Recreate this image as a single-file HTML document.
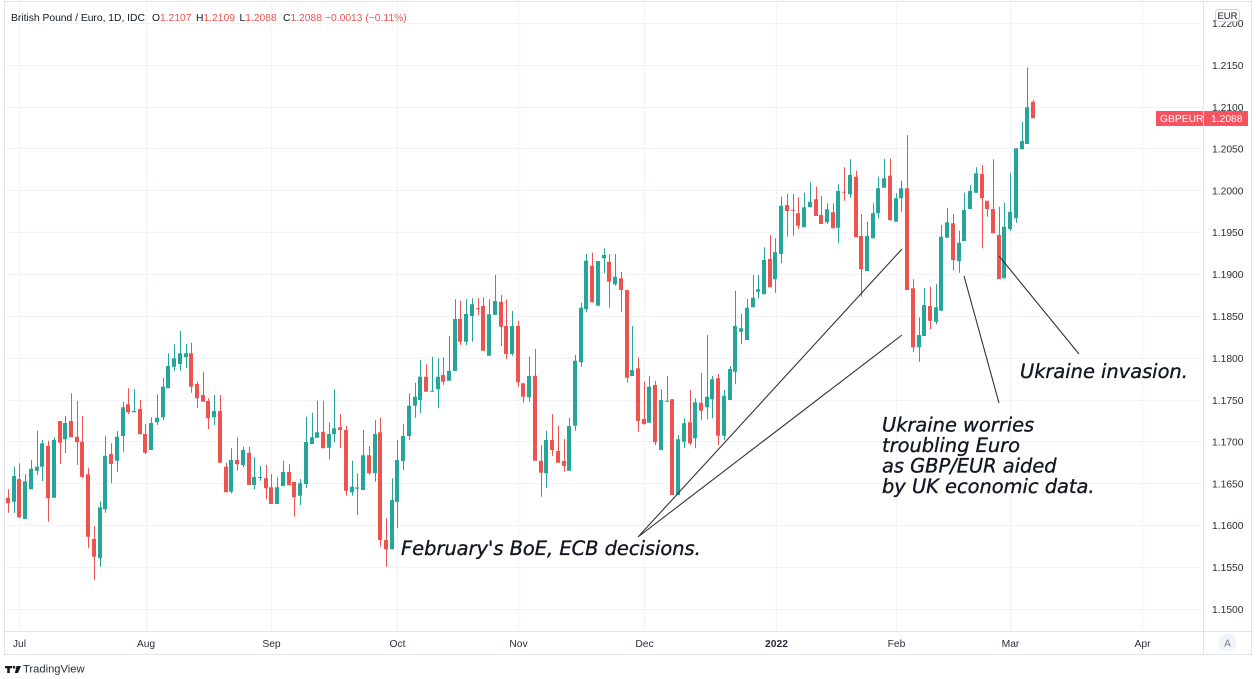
<!DOCTYPE html>
<html><head><meta charset="utf-8"><style>
html,body{margin:0;padding:0;background:#fff;width:1256px;height:679px;overflow:hidden}
svg{display:block}
.ax{font-family:"Liberation Sans",sans-serif;font-size:10.3px;fill:#2a2e39}
.an{font-family:"DejaVu Sans","Liberation Sans",sans-serif;font-style:italic;font-size:19.4px;fill:#131722;stroke:#131722;stroke-width:0.35px}
</style></head><body>
<svg width="1256" height="679" viewBox="0 0 1256 679" xmlns="http://www.w3.org/2000/svg">
<rect width="1256" height="679" fill="#fff"/>
<!-- grid -->
<g stroke="#f0f3fa" stroke-width="1">
<path d="M19.5 3V631M146.5 3V631M271.5 3V631M397.5 3V631M518.5 3V631M644.5 3V631M776.5 3V631M896.5 3V631M1010.5 3V631M1142.5 3V631"/>
<path d="M5 23.5H1203M5 65.5H1203M5 107.5H1203M5 148.5H1203M5 190.5H1203M5 232.5H1203M5 274.5H1203M5 316.5H1203M5 358.5H1203M5 400.5H1203M5 441.5H1203M5 483.5H1203M5 525.5H1203M5 567.5H1203M5 609.5H1203"/>
</g>
<!-- borders -->
<g stroke="#e0e3eb" stroke-width="1" fill="none">
<rect x="4.5" y="1.5" width="1247" height="653"/>
<path d="M4 631.5H1252M1203.5 2V654"/>
</g>
<!-- candles green -->
<path stroke="#26a69a" stroke-width="1" fill="none" d="M14.5 466.7V512.7M25.5 474.3V519M31.5 460V489.3M37.5 430.7V475M42.5 440V481M54.5 437.3V497.7M65.5 416V453.3M100.5 501V566.7M105.5 436V512.7M117.5 431V471.7M123.5 401.7V451.7M134.5 389.3V412.3M151.5 417.3V450M157.5 394.3V425M163.5 377.7V420M168.5 353.3V388.3M174.5 344.3V370.7M180.5 331V370.7M186.5 344V368.3M214.5 395V425M231.5 448.3V493.3M243.5 446.7V467.3M254.5 457.3V489.3M260.5 466V480.7M277.5 477.3V504M283.5 460.7V486M300.5 479V505M306.5 416.7V488.3M312.5 412.7V444M317.5 400.7V437.7M329.5 422.3V459.3M334.5 389.3V442.3M352.5 460.7V495.7M357.5 473.3V515M363.5 430V490M375.5 420V481.7M392.5 478.3V549.3M397.5 440V528.3M403.5 424.3V470M409.5 393.3V440M415.5 382.7V417.7M420.5 360V413.3M432.5 356.7V391.7M438.5 358.3V408.3M449.5 336V380.7M455.5 299.3V371M466.5 299.3V345M472.5 298.3V341.7M489.5 299.3V355.7M495.5 275V315M512.5 311V355.7M529.5 356.7V401.7M546.5 430.7V488.3M569.5 417.7V470.7M575.5 355V430.7M581.5 302.7V366.7M586.5 254V312.3M598.5 261V305.7M604.5 248.3V273.3M615.5 254V285.7M632.5 326V376M649.5 376V422.7M661.5 389.3V450M667.5 376V401.7M678.5 435V495M684.5 418.3V448.3M695.5 398.3V448.3M707.5 335V419.3M712.5 376V418.3M724.5 390V440M730.5 366V400M735.5 290.7V384.3M741.5 314V344M747.5 299V340M753.5 275V307.3M758.5 275V298.3M764.5 247.3V294.3M775.5 238.3V292.7M781.5 196.7V263.3M804.5 192.7V227.3M810.5 182.3V207.3M827.5 203.3V224M838.5 184.3V243.3M850.5 159.3V197.7M867.5 221.7V271M873.5 203.3V238.3M878.5 176.7V218.3M884.5 159V187.7M896.5 193.3V221.7M901.5 180.7V211.7M919.5 317.3V361.7M924.5 287.7V336M936.5 284.3V324.3M941.5 225V310.7M947.5 207.7V237.7M959.5 230.7V272.7M964.5 192.7V241M970.5 185V209M976.5 167.3V192.7M1004.5 202.7V278.3M1010.5 172.7V230.7M1016.5 148.3V222.7M1022.5 121.7V149.3M1027.5 67.3V144"/>
<path fill="#26a69a" d="M12 476h4V501.7h-4zM23 481.3h4V519h-4zM29 468.7h4V489.3h-4zM35 466.7h4V470.7h-4zM40 443.3h4V466.7h-4zM52 440h4V497.7h-4zM63 423h4V439.3h-4zM98 507.3h4V558.3h-4zM103 455.7h4V509.3h-4zM115 436.7h4V460.7h-4zM121 407.3h4V436h-4zM132 411h4V412.3h-4zM149 423h4V450h-4zM155 417.7h4V422.3h-4zM161 386.7h4V417.3h-4zM166 366h4V388.3h-4zM172 358.3h4V366.7h-4zM178 353.3h4V364h-4zM184 353.3h4V357.3h-4zM212 411h4V417.3h-4zM229 460h4V491.7h-4zM241 450h4V465h-4zM252 477h4V485h-4zM258 477h4V478h-4zM275 487.3h4V504h-4zM281 472h4V486h-4zM298 483.3h4V495.7h-4zM304 442h4V484h-4zM310 437.3h4V444h-4zM315 432.3h4V437.7h-4zM327 434h4V447.7h-4zM332 428.3h4V434.3h-4zM350 486.7h4V492.3h-4zM355 487.5h4V488.7h-4zM361 455.3h4V490h-4zM373 434h4V473.3h-4zM390 500h4V549.3h-4zM395 460h4V501.7h-4zM401 436h4V461h-4zM407 405.7h4V436h-4zM413 396.7h4V405.7h-4zM418 376.7h4V400h-4zM430 390.7h4V391.7h-4zM436 376.7h4V389.3h-4zM447 370.7h4V380.7h-4zM453 319h4V371h-4zM464 314h4V341.7h-4zM470 304.3h4V316h-4zM487 314.3h4V355.7h-4zM493 301h4V315h-4zM510 326h4V354h-4zM527 376h4V397.3h-4zM544 440h4V473.3h-4zM567 426h4V470.7h-4zM573 360.7h4V425.7h-4zM579 307.7h4V362.3h-4zM584 260.7h4V309h-4zM596 261h4V305.7h-4zM602 255h4V258.3h-4zM613 276.7h4V284.3h-4zM630 370h4V376h-4zM647 386.7h4V422.7h-4zM659 400h4V450h-4zM665 400.7h4V401.7h-4zM676 439.3h4V495h-4zM682 423.3h4V441.7h-4zM693 402.3h4V438.3h-4zM705 396.7h4V407.3h-4zM710 379.3h4V399.3h-4zM722 395.7h4V435.7h-4zM728 369h4V400h-4zM733 326h4V371.7h-4zM739 328.3h4V331.7h-4zM745 307.7h4V340h-4zM751 297.7h4V307.3h-4zM756 289.3h4V291.7h-4zM762 260h4V294.3h-4zM773 252.3h4V279.3h-4zM779 205.7h4V254h-4zM802 207.3h4V227.3h-4zM808 201.7h4V207.3h-4zM825 209.3h4V222.3h-4zM836 191h4V227.7h-4zM848 175h4V194.3h-4zM865 236h4V271h-4zM871 213.3h4V238.3h-4zM876 188.3h4V213.3h-4zM882 178.3h4V187.7h-4zM894 198.3h4V221.7h-4zM899 188.3h4V198.3h-4zM917 335h4V347.3h-4zM922 305h4V336h-4zM934 307.3h4V321.7h-4zM939 236.7h4V310.7h-4zM945 222.3h4V237.7h-4zM957 242.7h4V261h-4zM962 210h4V241h-4zM968 191h4V209h-4zM974 173.3h4V192.7h-4zM1002 226.7h4V278.3h-4zM1008 211.7h4V229h-4zM1014 148.3h4V218.3h-4zM1020 141h4V149.3h-4zM1025 107.3h4V144h-4z"/>
<!-- candles red -->
<path stroke="#ef5350" stroke-width="1" fill="none" d="M8.5 489.3V512.7M19.5 463.3V518.3M48.5 440.7V521.7M60.5 421V464M71.5 393.3V437.3M77.5 401V465M82.5 416V478.3M88.5 467.7V548.3M94.5 526V580M111.5 443.3V483.3M128.5 388.3V414M140.5 400V434.3M145.5 424V454M191.5 342.7V392.7M197.5 381.7V408.3M203.5 371.7V401.7M208.5 398.3V429.3M220.5 395V462.7M226.5 462.7V492.3M237.5 437.3V470.7M249.5 446.7V485M266.5 465V499.3M271.5 474V504M289.5 464.3V485.3M294.5 482V516.7M323.5 400.7V448.3M340.5 414.3V448.3M346.5 425.7V495.7M369.5 446V475M380.5 417.7V546.7M386.5 518.3V566.7M426.5 364.3V391.7M443.5 357.3V385M460.5 300.7V345M478.5 298.3V315M483.5 297.3V350.7M501.5 295V346M506.5 299.3V359.3M518.5 320.7V386.7M523.5 383.3V402.7M535.5 349V460.7M541.5 445V496.7M552.5 414V456M558.5 426V462.7M564.5 439V471.7M592.5 252.7V302.3M609.5 254V307.7M621.5 271.7V311.7M627.5 290V382.7M638.5 357.7V431.7M644.5 381.7V424.3M655.5 381V445M672.5 399.3V495M690.5 390V445M701.5 373V420M718.5 374V445M770.5 235V287.3M787.5 194V236.7M793.5 194V236M798.5 197.3V229M816.5 186.7V216M821.5 196V224M833.5 203.3V228.3M844.5 167.3V200.7M856.5 170.7V237.3M861.5 214V296.7M890.5 158.3V220.7M907.5 135V290M913.5 279.3V352.3M930.5 286.7V329.3M953.5 214V270.7M982.5 165V248.3M987.5 200.7V216.7M993.5 159.3V233.3M999.5 206.7V279M1033.5 100V118.3"/>
<path fill="#ef5350" d="M6 497.7h4V503.3h-4zM17 479h4V517.3h-4zM46 446h4V498.3h-4zM58 421h4V442.7h-4zM69 421h4V437.3h-4zM75 436.7h4V442.3h-4zM80 441.7h4V476.7h-4zM86 474.3h4V536.7h-4zM92 539h4V556.7h-4zM109 454h4V464h-4zM126 404.3h4V412.3h-4zM138 409h4V434.3h-4zM143 434h4V452.7h-4zM189 353.3h4V386.7h-4zM195 384h4V398.3h-4zM201 395h4V401.7h-4zM206 401h4V418.3h-4zM218 411h4V462.7h-4zM224 466.7h4V492.3h-4zM235 460h4V464.3h-4zM247 452.7h4V485h-4zM264 478.3h4V488.3h-4zM269 487.3h4V504h-4zM287 472h4V485.3h-4zM292 482h4V497.3h-4zM321 431.7h4V448.3h-4zM338 427.3h4V430h-4zM344 430h4V490.7h-4zM367 455.3h4V473.3h-4zM378 432.3h4V540h-4zM384 540h4V549.3h-4zM424 376.7h4V391.7h-4zM441 375h4V381.7h-4zM458 319h4V341.7h-4zM476 308.3h4V309.3h-4zM481 306h4V350.7h-4zM499 301.7h4V326.7h-4zM504 326h4V354h-4zM516 326h4V382.3h-4zM521 383.3h4V396.7h-4zM533 375.7h4V460.7h-4zM539 460.7h4V472.7h-4zM550 440h4V450h-4zM556 451h4V462.7h-4zM562 461h4V466h-4zM590 265.7h4V302.3h-4zM607 261.7h4V281.7h-4zM619 278.3h4V290h-4zM625 290h4V377.7h-4zM636 368.3h4V421h-4zM642 419h4V424.3h-4zM653 385h4V442.3h-4zM670 399.3h4V495h-4zM688 422.3h4V443.3h-4zM699 402.7h4V410.7h-4zM716 378.3h4V435.7h-4zM768 259h4V287.3h-4zM785 205h4V211h-4zM791 209.7h4V210.7h-4zM796 213.3h4V225.7h-4zM814 199.3h4V216h-4zM819 215h4V224h-4zM831 212.3h4V228.3h-4zM842 191.7h4V192.7h-4zM854 176.7h4V237.3h-4zM859 236h4V269.3h-4zM888 175.7h4V220h-4zM905 188.3h4V290h-4zM911 288.3h4V347.3h-4zM928 306h4V320.7h-4zM951 223.3h4V260h-4zM980 174h4V198.3h-4zM985 200.7h4V209h-4zM991 209h4V233.3h-4zM997 235h4V279h-4zM1031 101.7h4V118.3h-4z"/>
<!-- annotation lines -->
<g stroke="#333" stroke-width="1.1" fill="none">
<path d="M638 537L902 249M638 537L902 335M964 276L999 403M999 256L1079 354"/>
</g>
<!-- annotation text -->
<text class="an" x="401" y="555">February's BoE, ECB decisions.</text>
<text class="an" x="1020" y="378">Ukraine invasion.</text>
<text class="an" x="882" y="431.5">Ukraine worries</text>
<text class="an" x="882" y="452">troubling Euro</text>
<text class="an" x="882" y="472.5">as GBP/EUR aided</text>
<text class="an" x="882" y="493">by UK economic data.</text>
<!-- price axis labels -->
<g class="ax">
<text x="1212" y="27">1.2200</text>
<text x="1212" y="69">1.2150</text>
<text x="1212" y="111">1.2100</text>
<text x="1212" y="152.5">1.2050</text>
<text x="1212" y="194.5">1.2000</text>
<text x="1212" y="236">1.1950</text>
<text x="1212" y="278">1.1900</text>
<text x="1212" y="320">1.1850</text>
<text x="1212" y="362">1.1800</text>
<text x="1212" y="404">1.1750</text>
<text x="1212" y="445.5">1.1700</text>
<text x="1212" y="487.5">1.1650</text>
<text x="1212" y="529">1.1600</text>
<text x="1212" y="571">1.1550</text>
<text x="1212" y="613">1.1500</text>
</g>
<!-- EUR box -->
<rect x="1215.5" y="9.5" width="24" height="12" rx="3" fill="#fff" stroke="#d1d4dc"/>
<text x="1227.5" y="19" text-anchor="middle" style="font-family:'Liberation Sans',sans-serif;font-size:9.5px;fill:#131722">EUR</text>
<!-- last price label -->
<rect x="1156" y="111" width="92" height="15" fill="#f7525f"/>
<path d="M1203.5 111V126" stroke="#fbb" stroke-width="1"/>
<text x="1160" y="122" style="font-family:'Liberation Sans',sans-serif;font-size:10.3px;fill:#fff">GBPEUR</text>
<text x="1211" y="122" style="font-family:'Liberation Sans',sans-serif;font-size:10.3px;fill:#fff">1.2088</text>
<!-- time axis labels -->
<g class="ax" text-anchor="middle">
<text x="19.5" y="647">Jul</text>
<text x="146" y="647">Aug</text>
<text x="271.5" y="647">Sep</text>
<text x="397.5" y="647">Oct</text>
<text x="518.5" y="647">Nov</text>
<text x="644.5" y="647">Dec</text>
<text x="776.5" y="647" style="font-weight:bold">2022</text>
<text x="896.5" y="647">Feb</text>
<text x="1010.5" y="647">Mar</text>
<text x="1142.5" y="647">Apr</text>
</g>
<circle cx="1227.5" cy="642.5" r="9" fill="#f0f3fa"/>
<text x="1227.5" y="646.5" text-anchor="middle" style="font-family:'Liberation Sans',sans-serif;font-size:10px;fill:#787b86">A</text>
<!-- legend -->
<g style="font-family:'Liberation Sans',sans-serif;font-size:10.3px">
<text x="11" y="21" fill="#131722">British Pound / Euro, 1D, IDC</text>
<text x="152" y="21" fill="#131722">O<tspan fill="#ef5350">1.2107</tspan></text>
<text x="196" y="21" fill="#131722">H<tspan fill="#ef5350">1.2109</tspan></text>
<text x="239.5" y="21" fill="#131722">L<tspan fill="#ef5350">1.2088</tspan></text>
<text x="283" y="21" fill="#131722">C<tspan fill="#ef5350">1.2088</tspan></text>
<text x="325" y="21" fill="#ef5350">−0.0013 (−0.11%)</text>
</g>
<!-- TradingView logo -->
<g fill="#131722">
<path d="M5 666h7v2.2h-2.2v4.8h-2.6v-4.8H5z"/>
<circle cx="14" cy="667.2" r="1.3"/>
<path d="M16.5 666h4.5l-3 7h-3.2z"/>
</g>
<text x="23" y="672.5" style="font-family:'Liberation Sans',sans-serif;font-size:11.2px;fill:#2a2e39">TradingView</text>
</svg>
</body></html>
